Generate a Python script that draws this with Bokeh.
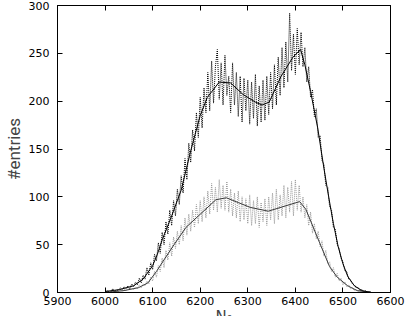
from bokeh.plotting import figure
from bokeh.models import FixedTicker, LinearAxis, Range1d
from bokeh.embed import file_html
from bokeh.resources import INLINE

# histogram bin centres (step 4)
bins = list(range(6000, 6561, 4))

# upper (black) histogram counts
black_counts = [
    0, 2, 1, 0, 4, 1, 3, 2, 5, 3,
    6, 4, 7, 4, 9, 6, 11, 8, 15, 10,
    18, 14, 26, 18, 31, 24, 40, 33, 52, 41,
    63, 50, 74, 61, 86, 70, 96, 80, 108, 92,
    122, 104, 140, 118, 156, 136, 170, 148, 188, 162,
    204, 172, 214, 188, 230, 190, 242, 198, 236, 254,
    202, 240, 196, 248, 206, 226, 188, 240, 196, 230,
    184, 226, 178, 224, 190, 222, 176, 220, 182, 228,
    174, 216, 178, 222, 180, 226, 186, 230, 192, 238,
    196, 246, 206, 256, 214, 262, 220, 292, 232, 270,
    228, 276, 238, 272, 236, 256, 220, 236, 204, 212,
    184, 192, 162, 164, 138, 134, 112, 110, 90, 86,
    68, 66, 50, 46, 36, 32, 23, 22, 14, 13,
    9, 8, 5, 5, 2, 3, 1, 2, 0, 1,
    0,
]

# lower (grey) histogram counts
grey_counts = [
    0, 1, 0, 1, 2, 0, 2, 1, 3, 1,
    3, 2, 4, 3, 5, 3, 6, 4, 8, 5,
    9, 7, 12, 9, 16, 12, 22, 16, 28, 22,
    36, 26, 44, 34, 52, 38, 58, 46, 64, 50,
    70, 54, 78, 60, 82, 64, 86, 68, 92, 72,
    96, 74, 100, 78, 106, 82, 114, 86, 110, 84,
    118, 88, 112, 86, 116, 84, 108, 80, 104, 78,
    106, 74, 100, 76, 98, 72, 102, 70, 96, 72,
    100, 68, 94, 74, 98, 70, 100, 76, 104, 72,
    108, 76, 102, 80, 112, 78, 110, 84, 116, 80,
    118, 86, 112, 84, 100, 78, 92, 70, 84, 62,
    72, 56, 64, 48, 54, 38, 44, 30, 32, 22,
    26, 16, 20, 12, 15, 8, 11, 6, 8, 4,
    5, 2, 3, 1, 2, 0, 1, 1, 0, 1,
    0,
]

# smooth fit through the upper histogram
black_fit_x = [6000, 6030, 6060, 6080, 6100, 6110, 6120, 6140, 6160, 6180, 6200, 6215,
               6240, 6264, 6290, 6316, 6330, 6345, 6370, 6395, 6411, 6420, 6432, 6447,
               6460, 6470, 6480, 6490, 6500, 6510, 6524, 6540, 6560]
black_fit_y = [1, 3, 7, 14, 28, 40, 55, 80, 107, 148, 185, 204,
               220, 219, 207, 199, 196, 199, 226, 246, 254, 238, 210, 172,
               130, 100, 72, 48, 30, 17, 7, 2, 0]

# smooth fit through the lower histogram
grey_fit_x = [6000, 6040, 6070, 6090, 6108, 6125, 6145, 6170, 6233, 6255, 6280, 6305,
              6343, 6409, 6422, 6451, 6472, 6488, 6510, 6530, 6560]
grey_fit_y = [0, 2, 5, 10, 22, 35, 50, 68, 97, 99, 94, 89,
              85, 95, 87, 52, 27, 16, 7, 2, 0]

x_ticks = [5900, 6000, 6100, 6200, 6300, 6400, 6500, 6600]
y_ticks = [0, 50, 100, 150, 200, 250, 300]

p = figure(width=409, height=328,
           x_range=Range1d(5900, 6600), y_range=Range1d(0, 300),
           output_backend="svg", toolbar_location=None,
           min_border_left=52, min_border_right=19,
           min_border_top=5, min_border_bottom=34)
p.grid.visible = False
p.outline_line_color = "black"
p.outline_line_width = 1
p.background_fill_color = "white"
p.border_fill_color = "white"

p.line(bins, grey_counts, line_color="#9a9a9a", line_width=1, line_dash="1 1")
p.line(bins, black_counts, line_color="black", line_width=1, line_dash="1 1")
p.line(grey_fit_x, grey_fit_y, line_color="#3a3a3a", line_width=1)
p.line(black_fit_x, black_fit_y, line_color="black", line_width=1)

def style(ax, ticks, show_labels):
    ax.ticker = FixedTicker(ticks=ticks)
    ax.major_tick_in = 5
    ax.major_tick_out = 0
    ax.minor_tick_line_color = None
    ax.axis_line_color = "black"
    ax.major_tick_line_color = "black"
    if show_labels:
        ax.major_label_text_font = "DejaVu Sans"
        ax.major_label_text_font_size = "11px"
        ax.major_label_text_color = "black"
    else:
        ax.major_label_overrides = {t: "" for t in ticks}
        ax.major_label_standoff = 0

xa = p.xaxis[0]
style(xa, x_ticks, True)
xa.major_label_standoff = 4
xa.axis_label = "N₀"
xa.axis_label_text_font = "DejaVu Sans"
xa.axis_label_text_font_style = "normal"
xa.axis_label_text_font_size = "15px"
xa.axis_label_standoff = 0

ya = p.yaxis[0]
style(ya, y_ticks, True)
ya.major_label_standoff = 8
ya.axis_label = "#entries"
ya.axis_label_text_font = "Roboto"
ya.axis_label_text_font_style = "normal"
ya.axis_label_text_font_size = "17px"
ya.axis_label_standoff = 2

top = LinearAxis()
style(top, x_ticks, False)
p.add_layout(top, "above")
right = LinearAxis()
style(right, y_ticks, False)
p.add_layout(right, "right")

open("out.html", "w").write(file_html(p, INLINE))
